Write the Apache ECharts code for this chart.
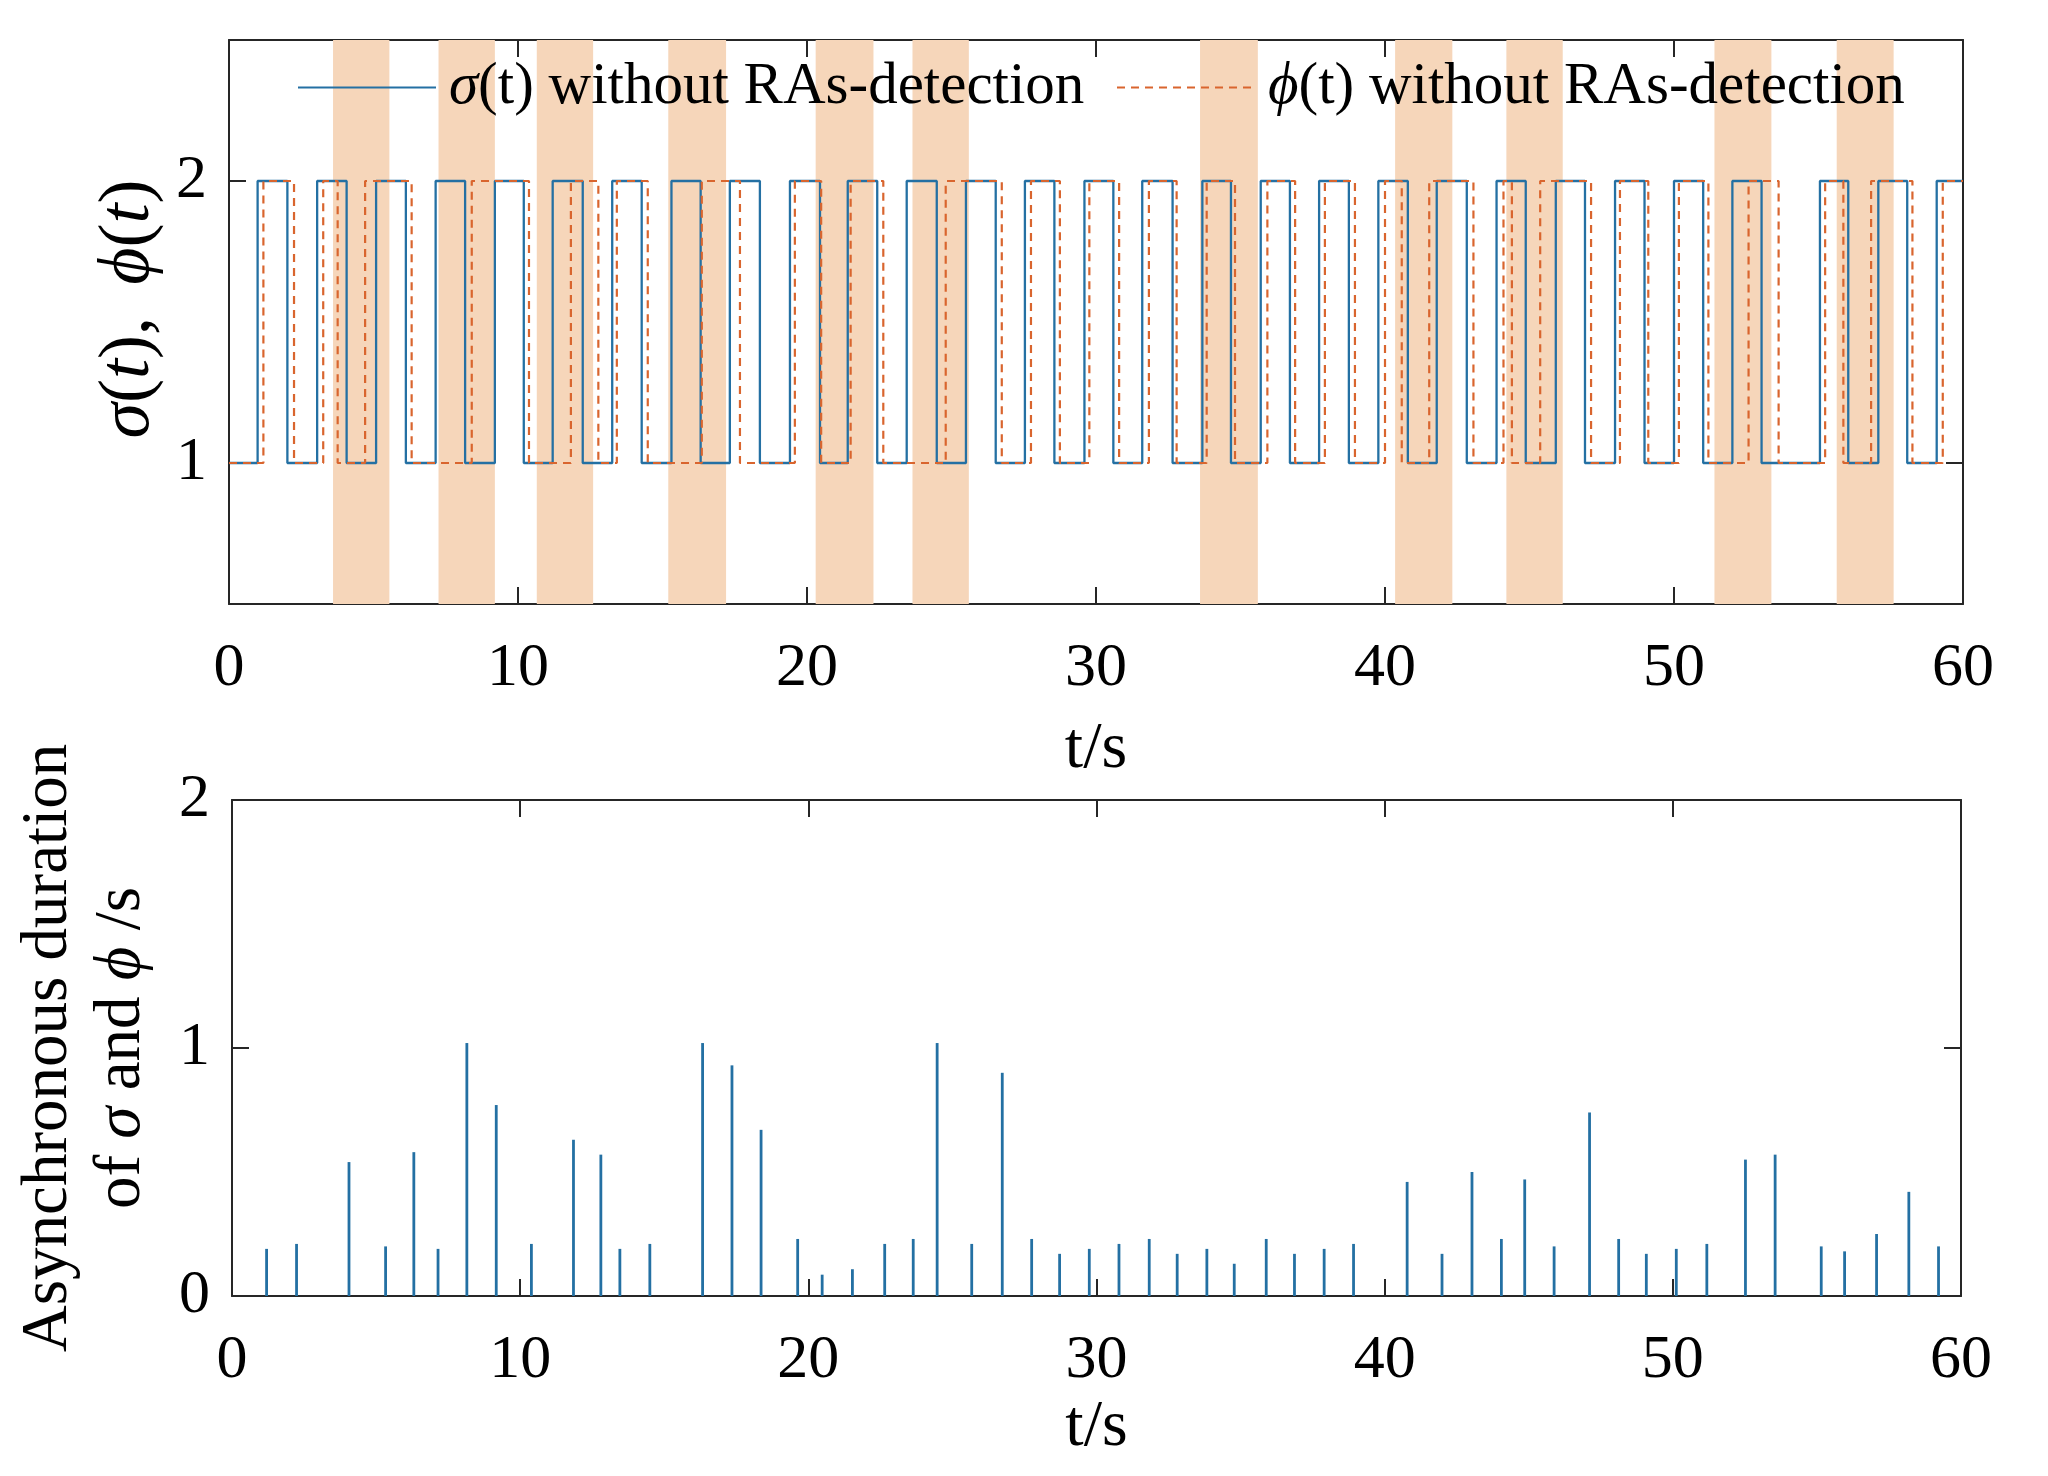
<!DOCTYPE html>
<html><head><meta charset="utf-8">
<script src="https://cdn.jsdelivr.net/npm/echarts@6/dist/echarts.min.js"></script>
<style>html,body{margin:0;padding:0;background:#fff}#c{width:2048px;height:1476px}</style>
</head><body><div id="c"></div>
<script>
// ---- data ----
const sigmaInit = 1;
const sigmaSwitch = [0.99, 2.02, 3.05, 4.07, 5.09, 6.12, 7.15, 8.17, 9.2, 10.2, 11.2, 12.24, 13.26, 14.28, 15.31, 16.32, 17.33, 18.37, 19.41, 20.45, 21.41, 22.43, 23.45, 24.49, 25.5, 26.53, 27.54, 28.56, 29.6, 30.6, 31.6, 32.65, 33.68, 34.67, 35.7, 36.71, 37.72, 38.75, 39.77, 40.79, 41.79, 42.83, 43.86, 44.87, 45.91, 46.92, 47.96, 48.98, 50.0, 51.01, 52.02, 53.03, 55.05, 56.03, 57.07, 58.07, 59.09];
const phiInit = 1;
const phiSwitch = [1.19, 2.25, 3.26, 3.76, 4.71, 6.32, 8.4, 10.38, 11.83, 12.78, 13.42, 14.49, 16.36, 17.68, 19.58, 20.49, 21.51, 22.64, 24.8, 26.74, 27.75, 28.75, 29.77, 30.8, 31.83, 32.79, 33.83, 34.81, 35.93, 36.89, 37.92, 38.96, 40.0, 40.58, 41.53, 43.06, 44.1, 44.39, 45.37, 47.13, 48.13, 49.11, 50.17, 51.19, 52.58, 53.62, 55.23, 55.86, 56.82, 58.25, 59.3];
const attackStart = [3.6, 7.25, 10.65, 15.2, 20.3, 23.65, 33.6, 40.35, 44.2, 51.4, 55.63];
const attackEnd   = [5.55, 9.2, 12.6, 17.2, 22.3, 25.6, 35.6, 42.33, 46.15, 53.37, 57.6];
const stemTimes  = [1.2, 2.24, 4.06, 5.33, 6.31, 7.15, 8.15, 9.17, 10.39, 11.85, 12.8, 13.46, 14.5, 16.33, 17.35, 18.36, 19.63, 20.48, 21.53, 22.65, 23.64, 24.47, 25.67, 26.73, 27.75, 28.72, 29.75, 30.78, 31.83, 32.8, 33.83, 34.78, 35.89, 36.87, 37.9, 38.92, 40.78, 41.99, 43.03, 44.05, 44.86, 45.88, 47.11, 48.12, 49.08, 50.12, 51.18, 52.52, 53.55, 55.15, 55.96, 57.07, 58.19, 59.22];
const stemValues = [0.19, 0.21, 0.54, 0.2, 0.58, 0.19, 1.02, 0.77, 0.21, 0.63, 0.57, 0.19, 0.21, 1.02, 0.93, 0.67, 0.23, 0.086, 0.108, 0.21, 0.23, 1.02, 0.21, 0.9, 0.23, 0.17, 0.19, 0.21, 0.23, 0.17, 0.19, 0.13, 0.23, 0.17, 0.19, 0.21, 0.46, 0.17, 0.5, 0.23, 0.47, 0.2, 0.74, 0.23, 0.17, 0.19, 0.21, 0.55, 0.57, 0.2, 0.18, 0.25, 0.42, 0.2];
const xTicks = [0, 10, 20, 30, 40, 50, 60];
const topYTicks = [1, 2];
const bottomYTicks = [0, 1, 2];
const tEnd = 60;

// ---- build ----
function stepData(init, switches) {
  let v = init; const d = [[0, v]];
  for (const t of switches) { v = (v === 1) ? 2 : 1; d.push([t, v]); }
  d.push([tEnd, v]);
  return d;
}
const FONT = 'Liberation Serif';
const AX = '#262626';
const BLUE = '#2470A3';
const ORANGE = '#D9652E';
const BAND = '#F6D6BA';
function richSet(size, lh) {
  return {
    i: { fontFamily: FONT, fontStyle: 'italic', fontSize: size, color: '#000', lineHeight: lh },
    n: { fontFamily: FONT, fontSize: size, color: '#000', lineHeight: lh }
  };
}

function xAxisPair(grid, name, nameGap) {
  return [{
    type: 'value', gridIndex: grid, min: 0, max: 60, interval: 10, position: 'bottom',
    axisLine: { onZero: false, lineStyle: { color: AX, width: 2 } },
    axisTick: { inside: true, length: 17, lineStyle: { color: AX, width: 2 } },
    axisLabel: { margin: 34, fontFamily: FONT, fontSize: 62, color: '#000', customValues: xTicks },
    splitLine: { show: false },
    name: name, nameLocation: 'middle', nameGap: nameGap,
    nameTextStyle: { fontFamily: FONT, fontSize: 66, color: '#000' }
  }, {
    type: 'value', gridIndex: grid, min: 0, max: 60, interval: 10, position: 'top',
    axisLine: { onZero: false, lineStyle: { color: AX, width: 2 } },
    axisTick: { inside: true, length: 17, lineStyle: { color: AX, width: 2 } },
    axisLabel: { show: false }, splitLine: { show: false }
  }];
}
function yAxisPair(grid, min, max, ticks, nameObj) {
  const left = Object.assign({
    type: 'value', gridIndex: grid, min: min, max: max, position: 'left',
    axisLine: { show: true, onZero: false, lineStyle: { color: AX, width: 2 } },
    axisTick: { show: true, inside: true, length: 17, customValues: ticks, lineStyle: { color: AX, width: 2 } },
    axisLabel: { margin: 22, fontFamily: FONT, fontSize: 62, color: '#000', customValues: ticks },
    splitLine: { show: false }
  }, nameObj);
  const right = {
    type: 'value', gridIndex: grid, min: min, max: max, position: 'right',
    axisLine: { show: true, onZero: false, lineStyle: { color: AX, width: 2 } },
    axisTick: { show: true, inside: true, length: 17, customValues: ticks, lineStyle: { color: AX, width: 2 } },
    axisLabel: { show: false }, splitLine: { show: false }
  };
  return [left, right];
}

const xa = xAxisPair(0, 't/s', 113).concat(xAxisPair(1, 't/s', 99));
const ya = yAxisPair(0, 0.5, 2.5, topYTicks, {
  name: '{i|σ}{n|(}{i|t}{n|),\u2009 }{i|ϕ}{n|(}{i|t}{n|)}', nameLocation: 'middle', nameGap: 62, nameRotate: 90,
  nameTextStyle: { rich: richSet(72, 72), padding: [0, 0, 0, 26] }
}).concat(yAxisPair(1, 0, 2, bottomYTicks, {
  name: '{n|Asynchronous duration}\n{n|of }{i|σ}{n| and }{i|ϕ}{n| /s}', nameLocation: 'middle', nameGap: 74, nameRotate: 90,
  nameTextStyle: { rich: richSet(65, 73) }
}));

const bands = attackStart.map((s, i) => [{ xAxis: s }, { xAxis: attackEnd[i] }]);
const legendRich = richSet(59, 64);

const option = {
  backgroundColor: '#fff',
  animation: false,
  grid: [
    { left: 229, right: 2048 - 1963, top: 40, height: 564 },
    { left: 232, right: 2048 - 1961, top: 800, height: 496 }
  ],
  xAxis: xa,
  yAxis: ya,
  legend: [
    { data: ['sigma'], left: 297, top: 58, padding: 0, itemWidth: 138, itemHeight: 14,
      itemStyle: { opacity: 0 },
      formatter: () => '{i|σ}{n|(t) without RAs-detection}', textStyle: { rich: legendRich, padding: [0, 0, 0, 8] } },
    { data: ['phi'], left: 1116, top: 58, padding: 0, itemWidth: 138, itemHeight: 14,
      itemStyle: { opacity: 0 },
      formatter: () => '{i|ϕ}{n|(t) without RAs-detection}', textStyle: { rich: legendRich, padding: [0, 0, 0, 8] } }
  ],
  series: [
    { type: 'line', name: 'bands', xAxisIndex: 0, yAxisIndex: 0, data: [], z: 1,
      markArea: { silent: true, itemStyle: { color: BAND }, data: bands } },
    { type: 'line', name: 'sigma', xAxisIndex: 0, yAxisIndex: 0, step: 'end', symbol: 'none', z: 3,
      lineStyle: { color: BLUE, width: 2.3 }, itemStyle: { color: BLUE },
      data: stepData(sigmaInit, sigmaSwitch) },
    { type: 'line', name: 'phi', xAxisIndex: 0, yAxisIndex: 0, step: 'end', symbol: 'none', z: 4,
      lineStyle: { color: ORANGE, width: 2.2, type: [8, 6] }, itemStyle: { color: ORANGE },
      data: stepData(phiInit, phiSwitch) },
    { type: 'custom', name: 'async', xAxisIndex: 2, yAxisIndex: 2, z: 3,
      data: stemTimes.map((t, i) => [t, stemValues[i]]),
      renderItem: function (params, api) {
        const p0 = api.coord([api.value(0), 0]);
        const p1 = api.coord([api.value(0), api.value(1)]);
        return { type: 'line', shape: { x1: p0[0], y1: p0[1], x2: p1[0], y2: p1[1] },
          style: { stroke: BLUE, lineWidth: 2.8 } };
      } }
  ]
};
echarts.init(document.getElementById('c')).setOption(option);
</script></body></html>
